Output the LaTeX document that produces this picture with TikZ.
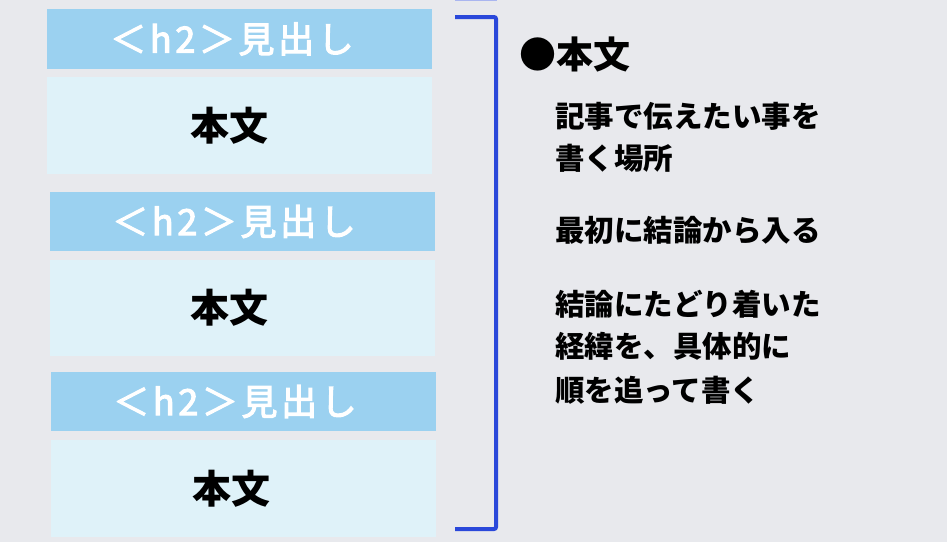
\documentclass[tikz,border=0pt]{standalone}
\usepackage{fontspec}
\setmainfont{Noto Sans CJK JP}
\newfontfamily\hdrfont[LetterSpace=10, FakeBold=3]{Noto Sans CJK JP}
\definecolor{bgc}{RGB}{232,233,237}
\definecolor{hdrc}{RGB}{155,209,240}
\definecolor{bodyc}{RGB}{223,242,249}
\definecolor{brc}{RGB}{42,72,218}
\tikzset{
  hdrbox/.style={fill=hdrc, draw=none, minimum width=385pt, minimum height=60pt, inner sep=0pt},
  bodybox/.style={fill=bodyc, draw=none, minimum width=385pt, minimum height=97pt, inner sep=0pt},
  hdrtxt/.style={text=white, inner sep=0pt, font=\hdrfont\fontsize{36}{40}\selectfont},
  bodytxt/.style={text=black, inner sep=0pt, font=\fontsize{39}{44}\selectfont\bfseries},
  desc/.style={anchor=west, inner sep=0pt, font=\fontsize{29.5}{43}\selectfont\bfseries},
}
\begin{document}
\begin{tikzpicture}[x=1pt,y=-1pt]
\fill[bgc] (0,0) rectangle (947,542);
\useasboundingbox (0,0) rectangle (947,542);
\node[hdrbox] (h1) at (239.5,39) {};
\node[hdrtxt] at (232,39) {＜h2＞見出し};
\node[bodybox] (b1) at (239.5,125.5) {};
\node[bodytxt] at (229,125.5) {本文};
\node[hdrbox, minimum height=59pt] (h2) at (242.5,221.5) {};
\node[hdrtxt] at (234,221.5) {＜h2＞見出し};
\node[bodybox, minimum height=96pt] (b2) at (242.5,308) {};
\node[bodytxt] at (229,308) {本文};
\node[hdrbox, minimum height=59pt] (h3) at (243.5,401.5) {};
\node[hdrtxt] at (235,401.5) {＜h2＞見出し};
\node[bodybox] (b3) at (243.5,488.5) {};
\node[bodytxt] at (231.5,488.5) {本文};
% bracket
\coordinate (bt) at (455,17);
\coordinate (bb) at (455,529);
\draw[brc, line width=4pt, rounded corners=2pt] (bt) -- (496,17) -- (496,529) -- (bb);
\coordinate (st) at (455,0.5);
\draw[brc!40, line width=1.5pt] (st) -- (497,0.5);
% texts
\node[desc, font=\fontsize{37}{44}\selectfont\bfseries] (t0) at (519,55) {●本文};
\node[desc] (t1) at (555,116.5) {記事で伝えたい事を};
\node[desc] (t2) at (555,158.5) {書く場所};
\node[desc] (t3) at (555,230.5) {最初に結論から入る};
\node[desc] (t4) at (555,304) {結論にたどり着いた};
\node[desc] (t5) at (555,346.5) {経緯を、具体的に};
\node[desc] (t6) at (555,390.5) {順を追って書く};
\end{tikzpicture}
\end{document}
